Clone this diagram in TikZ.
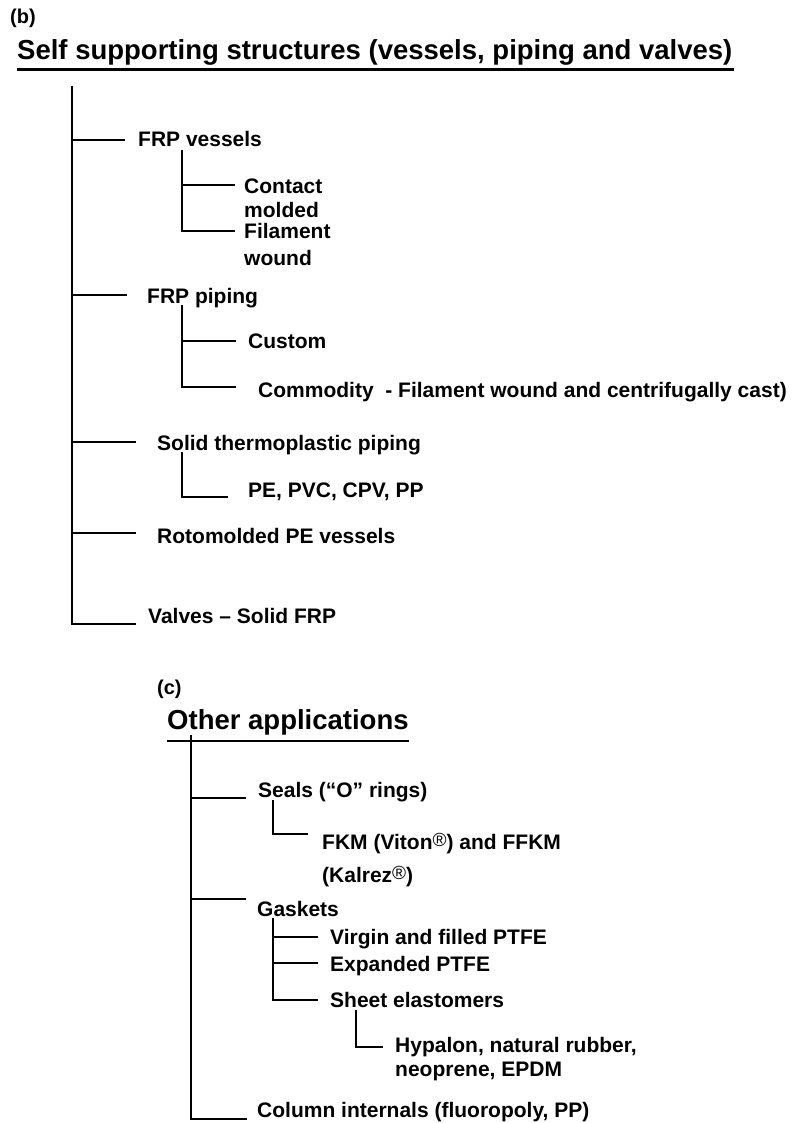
\documentclass[tikz,border=0pt]{standalone}
\usepackage{fontspec}
\setmainfont{Liberation Sans}
\usetikzlibrary{calc}
\newcommand\regmark{\raisebox{2.5pt}{\fontsize{19}{19}\selectfont\mdseries ®}}
\begin{document}
\begin{tikzpicture}[x=1pt,y=-1pt,
  lbl/.style={inner sep=0pt,anchor=base west,font=\fontsize{21}{24}\selectfont\bfseries},
  ttl/.style={inner sep=0pt,anchor=base west,font=\fontsize{27.5}{32}\selectfont\bfseries},
  tag/.style={inner sep=0pt,anchor=base west,font=\fontsize{20}{24}\selectfont\bfseries},
  link/.style={line width=1.4pt},
  rule/.style={line width=2.4pt}]
\useasboundingbox (0,0) rectangle (795,1123);

% ---------- (b) self supporting structures ----------
\node[tag] (b) at (10,24) {(b)};
\node[ttl] (t1) at (17,60) {Self supporting structures (vessels, piping and valves)};
\draw[rule] ($(t1.base west)+(0,9.5)$) -- ($(t1.base east)+(1,9.5)$);

\node[lbl] (vessels) at (138,147) {FRP vessels};
\node[lbl] (contact) at (244,194) {Contact};
\node[lbl] (contact2) at (244,218) {molded};
\node[lbl] (filament) at (244,238) {Filament};
\node[lbl] (filament2) at (244,265) {wound};
\node[lbl] (piping) at (147,303) {FRP piping};
\node[lbl] (custom) at (248,348) {Custom};
\node[lbl] (commodity) at (258,397) {Commodity\ \ - Filament wound and centrifugally cast)};
\node[lbl] (solid) at (157,450) {Solid thermoplastic piping};
\node[lbl] (pe) at (248,497) {PE, PVC, CPV, PP};
\node[lbl] (roto) at (157,543) {Rotomolded PE vessels};
\node[lbl] (valves) at (148,623) {Valves – Solid FRP};

% trunk and branch ends
\coordinate (r1) at (72,86);
\coordinate (e-vessels) at (125,140);
\coordinate (e-piping) at (127,295);
\coordinate (e-solid) at (136,442);
\coordinate (e-roto) at (136,533);
\coordinate (e-valves) at (136,624);
\foreach \e in {vessels,piping,solid,roto,valves}
  \draw[link] (r1) |- (e-\e);

\coordinate (r-vessels) at (182,150);
\coordinate (e-contact) at (235,185);
\coordinate (e-filament) at (235,231);
\foreach \e in {contact,filament}
  \draw[link] (r-vessels) |- (e-\e);

\coordinate (r-piping) at (182,305);
\coordinate (e-custom) at (236,341);
\coordinate (e-commodity) at (236,387);
\foreach \e in {custom,commodity}
  \draw[link] (r-piping) |- (e-\e);

\coordinate (r-solid) at (182,452);
\coordinate (e-pe) at (228,497);
\draw[link] (r-solid) |- (e-pe);

% ---------- (c) other applications ----------
\node[tag] (c) at (157,694) {(c)};
\node[ttl] (t2) at (167,729) {Other applications};
\draw[rule] ($(t2.base west)+(0,12)$) -- ($(t2.base east)+(0,12)$);

\node[lbl] (seals) at (258,797) {Seals (“O” rings)};
\node[lbl] (fkm) at (322,849) {FKM (Viton\regmark) and FFKM};
\node[lbl] (fkm2) at (322,882) {(Kalrez\regmark)};
\node[lbl] (gaskets) at (257,916) {Gaskets};
\node[lbl] (virgin) at (330,944) {Virgin and filled PTFE};
\node[lbl] (expanded) at (330,971) {Expanded PTFE};
\node[lbl] (sheet) at (330,1007) {Sheet elastomers};
\node[lbl] (hypalon) at (395,1052) {Hypalon, natural rubber,};
\node[lbl] (hypalon2) at (395,1076) {neoprene, EPDM};
\node[lbl] (column) at (257,1117) {Column internals (fluoropoly, PP)};

\coordinate (r2) at (191,735);
\coordinate (e-seals) at (246,798);
\coordinate (e-gaskets) at (246,899);
\coordinate (e-column) at (247,1119);
\foreach \e in {seals,gaskets,column}
  \draw[link] (r2) |- (e-\e);

\coordinate (r-seals) at (273,800);
\coordinate (e-fkm) at (308,834);
\draw[link] (r-seals) |- (e-fkm);

\coordinate (r-gaskets) at (273,918);
\coordinate (e-virgin) at (318,937);
\coordinate (e-expanded) at (318,963);
\coordinate (e-sheet) at (318,1000);
\foreach \e in {virgin,expanded,sheet}
  \draw[link] (r-gaskets) |- (e-\e);

\coordinate (r-sheet) at (356,1010);
\coordinate (e-hypalon) at (383,1047);
\draw[link] (r-sheet) |- (e-hypalon);
\end{tikzpicture}
\end{document}
